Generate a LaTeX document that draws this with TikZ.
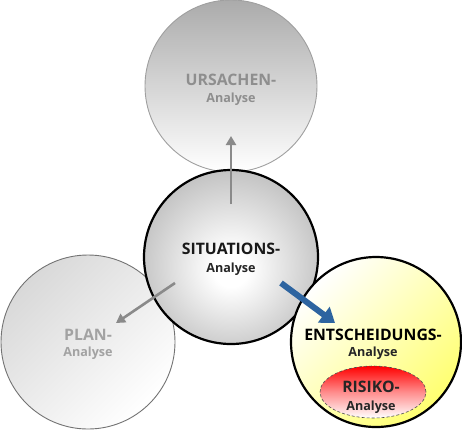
\documentclass[tikz,border=0pt]{standalone}
\usepackage{fontspec}
\setmainfont{Open Sans}
\usetikzlibrary{arrows.meta,shapes.geometric}
\definecolor{ballgray}{HTML}{AAAAAA}
\definecolor{balledge}{HTML}{A2A2A2}
\definecolor{topgray}{HTML}{ABABAB}
\definecolor{txtgray}{HTML}{8E8E8E}
\definecolor{plangray}{HTML}{A2A2A2}
\definecolor{arrgray}{HTML}{8A8A8A}
\definecolor{arrblue}{HTML}{2D64A0}
\definecolor{yel}{HTML}{FFFF70}
\pgfdeclareradialshading{sitball}{\pgfpoint{0bp}{-4bp}}{color(0bp)=(white); color(5bp)=(white); color(36bp)=(ballgray); color(50bp)=(balledge)}
\tikzset{
  bubble/.style={circle, inner sep=0pt},
  captxt/.style={font=\bfseries\fontsize{15.8}{17}\selectfont, inner sep=0pt},
  subtxt/.style={font=\bfseries\fontsize{12.6}{14}\selectfont, inner sep=0pt},
  grayarrow/.style={draw=arrgray, line width=2.6pt, -{Triangle[length=9pt,width=10pt]}},
  bluearrow/.style={draw=arrblue, line width=6pt, -{Triangle[length=14pt,width=19pt]}}
}
\begin{document}
\begin{tikzpicture}[x=1pt,y=-1pt]
\useasboundingbox (0,0) rectangle (462,432);
% circles
\node[bubble, minimum size=172pt, draw=gray!75, line width=0.9pt, top color=topgray, bottom color=white] (urs) at (231,86) {};
\node[bubble, minimum size=174pt, draw=gray!110, line width=0.9pt, top color=gray!30, bottom color=white, shading angle=45] (plan) at (88,342) {};
\node[bubble, minimum size=174pt, draw=black, line width=2.2pt, shading=sitball] (sit) at (231,257) {};
\node[bubble, minimum size=170pt, draw=black, line width=2.2pt, top color=white, bottom color=yel, shading angle=45] (ent) at (376,342) {};
\node[ellipse, minimum width=106pt, minimum height=52pt, inner sep=0pt, draw=black!70, densely dashed, line width=0.6pt, top color=red, bottom color=white, middle color=red!45] (ris) at (373,392) {};
% texts
\node[captxt, text=txtgray] (ursA) at (231,80) {URSACHEN-};
\node[subtxt, text=txtgray] (ursB) at (231,99) {Analyse};
\node[captxt, text=black!90] (sitA) at (231,249) {SITUATIONS-};
\node[subtxt, text=black!85] (sitB) at (231,269) {Analyse};
\node[captxt, text=plangray] (planA) at (88,335) {PLAN-};
\node[subtxt, text=plangray] (planB) at (88,353) {Analyse};
\node[captxt, text=black] (entA) at (373,335) {ENTSCHEIDUNGS-};
\node[subtxt, text=black!85] (entB) at (373,353) {Analyse};
\node[captxt, text=black!85] (risA) at (371,387) {RISIKO-};
\node[subtxt, text=black!85] (risB) at (371,407) {Analyse};
% arrows
\coordinate (u1) at (231,204);
\coordinate (u2) at (231,136);
\coordinate (p1) at (175,283);
\coordinate (p2) at (116,323);
\coordinate (e1) at (281,283);
\coordinate (e2) at (335,323);
\draw[grayarrow] (u1) -- (u2);
\draw[grayarrow] (p1) -- (p2);
\draw[bluearrow] (e1) -- (e2);
\end{tikzpicture}
\end{document}
